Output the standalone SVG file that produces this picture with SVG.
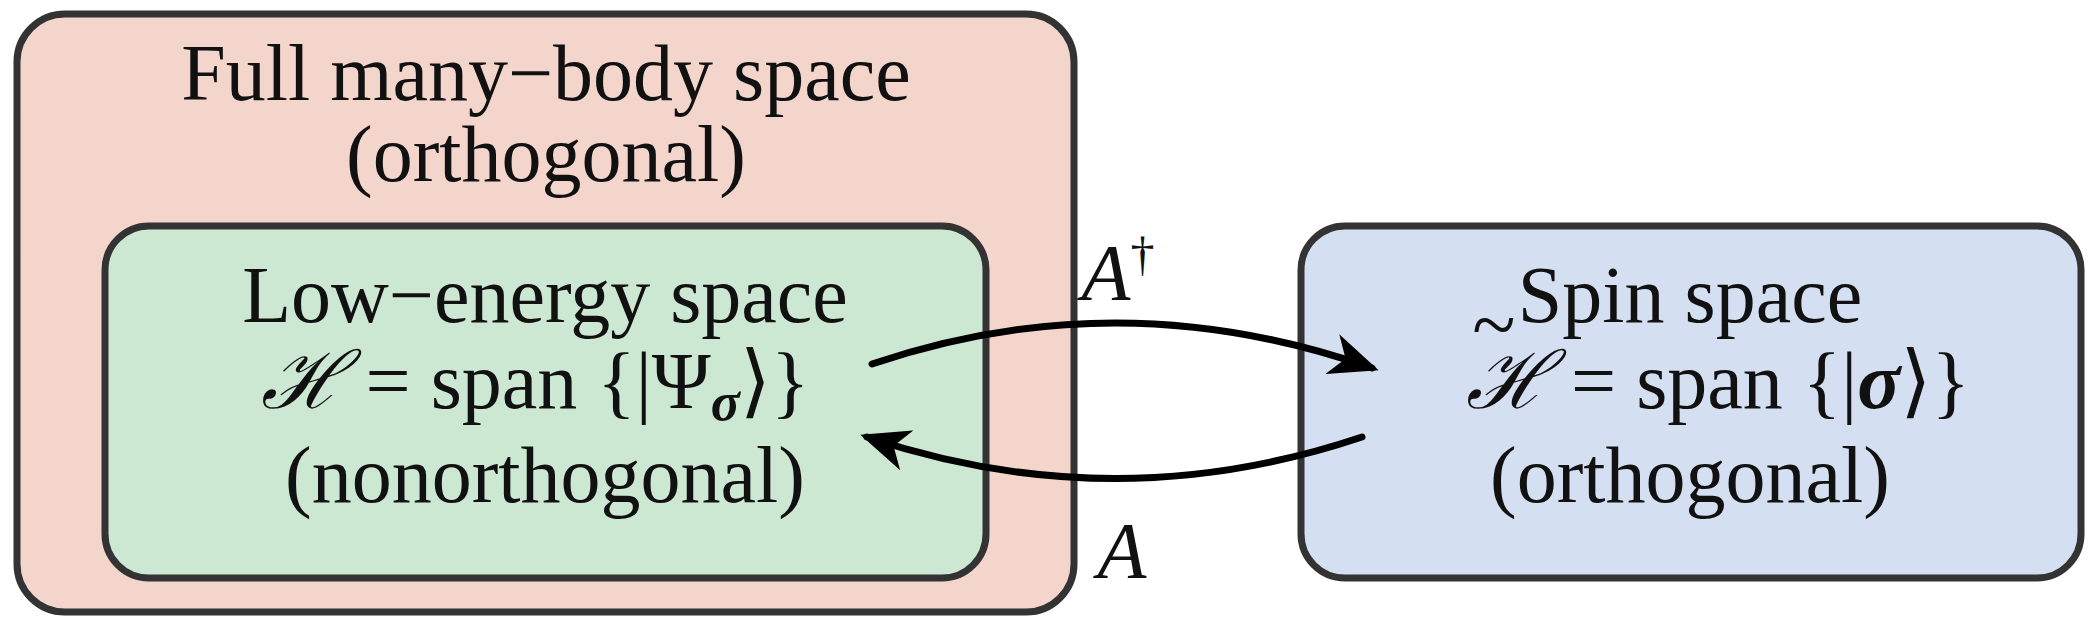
<svg xmlns="http://www.w3.org/2000/svg" width="2098" height="633" viewBox="0 0 2098 633">
<style>
.box{stroke:#333;stroke-width:7}
text{font-family:"Liberation Serif","DejaVu Serif",serif;font-size:80px;fill:#111;text-anchor:middle}
.c{fill:none;stroke:#000;stroke-width:7;stroke-linecap:round}
</style>
<defs>
<marker id="ah" markerWidth="7" markerHeight="6" refX="6" refY="3" orient="auto" markerUnits="strokeWidth">
<path d="M0,0 L7,3 L0,6 L2,3 Z" fill="#000"/>
</marker>
</defs>
<rect width="2098" height="633" fill="#fff"/>
<g id="full">
<rect class="box" x="17" y="14" width="1057" height="598" rx="48" fill="#f4d5cc"/>
<text x="546" y="100">Full many−body space</text>
<text x="546" y="181">(orthogonal)</text>
</g>
<g id="low">
<rect class="box" x="105" y="226" width="881" height="352" rx="44" fill="#cce8d3"/>
<text x="545" y="322">Low−energy space</text>
<text x="535" y="408"><tspan font-style="italic" font-family="DejaVu Serif">ℋ</tspan> = span {|Ψ<tspan font-style="italic" font-weight="bold" font-size="54" dy="12">σ</tspan><tspan dy="-12">⟩}</tspan></text>
<text x="545" y="502">(nonorthogonal)</text>
</g>
<g id="spin">
<rect class="box" x="1301" y="226" width="780" height="352" rx="44" fill="#d4dff2"/>
<text x="1690" y="322">Spin space</text>
<text x="1718" y="408"><tspan font-style="italic" font-family="DejaVu Serif">ℋ</tspan> = span {|<tspan font-style="italic" font-weight="bold">σ</tspan>⟩}</text>
<text x="1494" y="352" font-size="48">~</text>
<text x="1690" y="502">(orthogonal)</text>
</g>
<g id="connectors">
<path class="c" d="M872,364 Q1120,280 1372,368" marker-end="url(#ah)"/>
<path class="c" d="M1362,437 Q1115,520 867,437" marker-end="url(#ah)"/>
<text x="1118" y="300" font-style="italic">A<tspan font-size="48" dy="-30" font-style="normal">†</tspan></text>
<text x="1122" y="578" font-style="italic">A</text>
</g>
</svg>
